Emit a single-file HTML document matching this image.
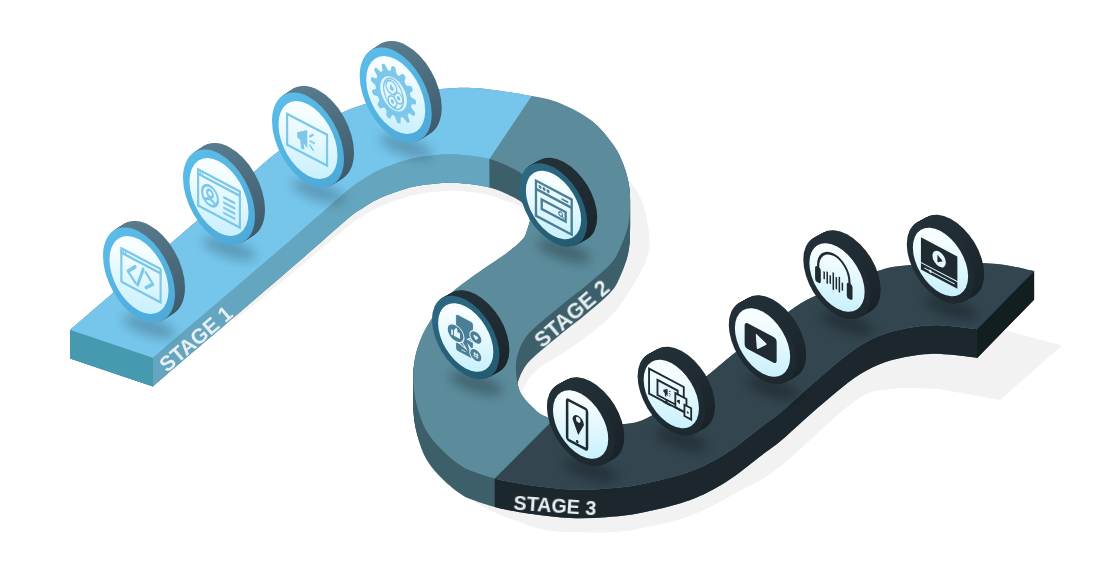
<!DOCTYPE html>
<html><head><meta charset="utf-8"><style>
html,body{margin:0;padding:0;background:#fff;width:1098px;height:565px;overflow:hidden}
svg{display:block}
text{font-family:"Liberation Sans",sans-serif;font-weight:bold}
</style></head><body>
<svg width="1098" height="565" viewBox="0 0 1098 565">
<defs>
<path id="road" d="M70.0 330.0 C73.3 327.1 73.2 327.2 90.0 312.8 C106.8 298.4 143.0 267.2 170.6 243.5 C198.2 219.8 237.7 185.7 255.6 170.4 C273.5 155.1 269.1 158.5 278.2 151.5 C287.3 144.5 299.2 135.0 310.0 128.5 C320.8 122.0 333.7 116.4 343.0 112.3 C352.3 108.2 356.4 106.8 365.9 103.8 C375.4 100.8 387.5 97.0 400.0 94.5 C412.5 92.0 427.8 90.0 441.0 89.0 C454.2 88.0 463.9 87.0 479.0 88.2 C494.1 89.4 518.1 93.5 531.6 96.0 C545.1 98.5 550.0 99.1 560.0 103.2 C570.0 107.3 583.0 113.9 591.8 120.8 C600.6 127.7 607.7 137.0 613.0 144.3 C618.3 151.6 620.8 157.7 623.5 164.5 C626.2 171.3 627.9 178.4 629.0 185.0 C630.1 191.6 630.2 197.2 630.0 204.0 C629.8 210.8 629.8 218.4 628.0 226.0 C626.2 233.6 622.5 243.1 619.5 249.5 C616.5 255.9 615.8 258.3 610.0 264.5 C604.2 270.7 591.7 280.9 585.0 286.5 C578.3 292.1 575.0 294.3 570.0 298.3 C565.0 302.3 560.0 306.5 555.0 310.6 C550.0 314.7 544.7 318.9 540.0 323.0 C535.3 327.1 530.4 331.2 527.0 335.5 C523.6 339.8 521.3 344.4 519.5 349.0 C517.7 353.6 516.5 358.5 516.0 363.0 C515.5 367.5 516.1 372.0 516.5 376.0 C516.9 380.0 517.6 383.8 518.5 387.0 C519.4 390.2 519.9 391.9 522.0 395.0 C524.1 398.1 526.9 401.8 531.0 405.4 C535.1 409.0 537.7 413.6 546.7 416.7 C555.7 419.8 572.8 422.7 585.0 424.0 C597.2 425.3 609.2 425.8 620.2 424.5 C631.2 423.2 637.0 423.8 651.0 416.0 C665.0 408.2 690.2 388.6 704.2 378.0 C718.2 367.4 721.5 363.4 735.3 352.6 C749.1 341.8 773.7 322.4 787.0 313.0 C800.3 303.6 800.4 302.9 815.0 296.0 C829.6 289.1 858.7 277.1 874.9 271.9 C891.1 266.7 892.9 266.4 912.0 265.0 C931.1 263.6 969.2 262.5 989.6 263.5 C1010.0 264.5 1026.8 269.8 1034.2 271.0 L977.2 329.4 C973.3 328.9 961.9 327.3 954.0 326.6 C946.1 325.9 938.2 325.1 930.0 325.4 C921.8 325.7 913.5 326.7 905.0 328.5 C896.5 330.3 887.5 332.5 879.0 336.0 C870.5 339.5 862.5 343.9 854.3 349.5 C846.1 355.1 837.9 362.4 829.6 369.3 C821.4 376.2 813.1 383.5 804.8 390.8 C796.5 398.1 787.5 406.8 780.0 413.0 C772.5 419.2 768.9 421.3 760.0 428.0 C751.1 434.7 738.4 445.7 726.7 453.0 C715.0 460.3 704.1 466.4 689.6 471.7 C675.1 476.9 653.9 481.7 640.0 484.5 C626.1 487.3 617.5 487.8 606.0 488.7 C594.5 489.6 582.6 490.1 570.8 489.6 C559.0 489.2 544.7 487.1 535.4 486.0 C526.1 484.9 521.8 484.1 515.0 482.8 C508.2 481.6 501.6 480.4 494.7 478.5 C487.8 476.6 479.1 473.7 473.6 471.7 C468.2 469.7 467.1 469.9 462.0 466.5 C456.9 463.1 448.9 456.9 443.0 451.0 C437.1 445.1 430.9 438.8 426.5 431.0 C422.1 423.2 418.7 412.5 416.5 404.0 C414.3 395.5 413.6 387.7 413.3 380.0 C413.1 372.3 413.6 365.3 415.0 358.0 C416.4 350.7 418.5 343.7 422.0 336.0 C425.5 328.3 431.4 318.9 436.0 312.0 C440.6 305.1 442.8 300.8 449.6 294.4 C456.4 288.0 467.2 280.5 476.7 273.6 C486.2 266.7 498.9 258.7 506.6 252.9 C514.3 247.1 519.3 242.8 522.7 239.0 C526.1 235.2 525.6 234.0 527.0 230.0 C528.4 226.0 530.3 220.3 531.0 215.0 C531.7 209.7 531.7 203.5 531.0 198.0 C530.3 192.5 528.8 186.2 527.0 182.0 C525.2 177.8 523.7 175.5 520.0 172.6 C516.3 169.7 510.1 167.1 505.0 164.8 C499.9 162.6 495.3 160.6 489.4 159.1 C483.5 157.6 476.5 156.4 469.6 155.6 C462.8 154.8 456.6 154.0 448.3 154.2 C440.0 154.4 428.1 155.7 420.0 157.0 C411.9 158.3 407.2 159.6 400.0 162.0 C392.8 164.4 382.9 168.2 376.7 171.2 C370.4 174.1 367.3 176.6 362.5 179.7 C357.7 182.8 358.4 181.3 348.0 190.0 C337.6 198.7 318.0 216.4 300.0 232.0 C282.0 247.6 260.0 266.4 240.0 283.5 C220.0 300.6 194.5 322.2 180.0 334.6 C165.5 347.0 157.5 354.1 153.0 358.0 Z"/>
<mask id="sm" maskUnits="userSpaceOnUse" x="0" y="0" width="1098" height="565"><g fill="#fff"><use href="#road" y="28.5"/><use href="#road" y="27.5"/><use href="#road" y="26.5"/><use href="#road" y="25.5"/><use href="#road" y="24.5"/><use href="#road" y="23.5"/><use href="#road" y="22.5"/><use href="#road" y="21.5"/><use href="#road" y="20.5"/><use href="#road" y="19.5"/><use href="#road" y="18.5"/><use href="#road" y="17.5"/><use href="#road" y="16.5"/><use href="#road" y="15.5"/><use href="#road" y="14.5"/><use href="#road" y="13.5"/><use href="#road" y="12.5"/><use href="#road" y="11.5"/><use href="#road" y="10.5"/><use href="#road" y="9.5"/><use href="#road" y="8.5"/><use href="#road" y="7.5"/><use href="#road" y="6.5"/><use href="#road" y="5.5"/><use href="#road" y="4.5"/><use href="#road" y="3.5"/><use href="#road" y="2.5"/><use href="#road" y="1.5"/><use href="#road" y="0.5"/></g></mask>
<clipPath id="c1"><polygon points="0,0 596,0 489.4,159.1 489.5,200 0,565"/></clipPath>
<clipPath id="c3"><polygon points="494.7,565 494.7,478.5 556,417 1098,0 1098,565"/></clipPath>
<linearGradient id="face" x1="-0.2" y1="-0.6" x2="0.4" y2="1" gradientUnits="userSpaceOnUse"><stop offset="0" stop-color="#f8feff"/><stop offset="1" stop-color="#c0eefd"/></linearGradient>
<linearGradient id="bk1" x1="0.1" y1="0" x2="0.9" y2="1"><stop offset="0" stop-color="#5d8193"/><stop offset="1" stop-color="#3a5767"/></linearGradient>
<linearGradient id="bk2" x1="0.1" y1="0" x2="0.9" y2="1"><stop offset="0" stop-color="#24333b"/><stop offset="1" stop-color="#19242a"/></linearGradient>
<linearGradient id="bk3" x1="0.1" y1="0" x2="0.9" y2="1"><stop offset="0" stop-color="#25323a"/><stop offset="1" stop-color="#172025"/></linearGradient>
<linearGradient id="rm1" x1="0" y1="0" x2="1" y2="1"><stop offset="0" stop-color="#5ec0ec"/><stop offset="1" stop-color="#4aa6d6"/></linearGradient>
<linearGradient id="rm2" x1="0" y1="0" x2="1" y2="1"><stop offset="0" stop-color="#2d6b86"/><stop offset="1" stop-color="#22586e"/></linearGradient>
<linearGradient id="rm3" x1="0" y1="0" x2="1" y2="1"><stop offset="0" stop-color="#24313a"/><stop offset="1" stop-color="#1c272d"/></linearGradient>
<filter id="nf" x="0" y="0" width="1098" height="565" filterUnits="userSpaceOnUse"><feOffset dx="0" dy="0"/></filter>
<filter id="blur6" x="-50%" y="-50%" width="200%" height="200%"><feGaussianBlur stdDeviation="6"/></filter>
<filter id="blur5" x="-50%" y="-50%" width="200%" height="200%"><feGaussianBlur stdDeviation="5"/></filter>
</defs>
<g fill="#f2f2f2"><path d="M232.0 318.0 C233.6 317.4 229.9 323.2 241.5 314.4 C253.1 305.6 283.5 280.2 301.5 265.3 C319.5 250.4 339.1 233.5 349.5 225.2 C359.9 216.9 359.2 218.4 364.0 215.5 C368.8 212.6 371.9 210.4 378.2 207.6 C384.4 204.7 394.3 200.8 401.5 198.5 C408.7 196.2 413.4 194.8 421.5 193.5 C429.6 192.2 441.5 190.9 449.8 190.7 C458.1 190.5 464.2 191.3 471.1 192.1 C478.0 192.9 485.0 194.1 490.9 195.6 C496.8 197.1 500.0 198.9 506.5 201.3 C513.0 203.7 526.1 208.6 530.0 210.0 L520.0 160.0 L400.0 150.0 L230.0 300.0 Z"/><path d="M622.0 170.0 C625.1 174.8 636.2 188.1 640.7 198.5 C645.2 208.9 648.0 222.6 649.0 232.5 C650.0 242.4 650.2 248.4 647.0 258.0 C643.8 267.6 636.2 280.2 630.0 290.0 C623.8 299.8 619.2 307.8 610.0 317.0 C600.8 326.2 584.2 338.2 575.0 345.0 C565.8 351.8 560.8 354.3 555.0 358.0 C549.2 361.7 544.5 363.3 540.0 367.0 C535.5 370.7 531.0 375.8 528.0 380.0 C525.0 384.2 523.5 389.0 522.0 392.0 C520.5 395.0 519.5 397.0 519.0 398.0 L512.0 370.0 L560.0 300.0 L615.0 230.0 Z"/><path d="M468.0 497.0 C470.3 498.5 477.5 503.4 482.0 506.0 C486.5 508.6 487.8 509.5 495.0 512.5 C502.2 515.5 515.3 520.9 525.0 524.0 C534.7 527.1 539.5 529.6 553.0 531.0 C566.5 532.4 591.5 532.9 606.0 532.5 C620.5 532.1 626.1 531.2 640.0 528.5 C653.9 525.8 673.1 522.2 689.6 516.0 C706.1 509.8 723.9 499.7 739.0 491.5 C754.1 483.3 760.8 481.7 780.0 466.7 C799.2 451.7 835.7 414.4 854.3 401.5 C872.9 388.6 877.2 391.1 891.5 389.0 C905.8 386.9 931.9 389.2 940.0 389.2 L1000.2 400.0 L1062.0 345.5 L1007.5 331.0 L977.0 340.0 L900.0 340.0 L700.0 460.0 L500.0 480.0 Z"/></g>
<g><rect width="1098" height="565" fill="#3c5f69" mask="url(#sm)"/></g>
<g clip-path="url(#c1)"><rect width="1098" height="565" fill="#64a6bf" mask="url(#sm)"/></g>
<g clip-path="url(#c3)"><rect width="1098" height="565" fill="#1b262d" mask="url(#sm)"/></g>
<use href="#road" fill="#5c8c9c"/>
<use href="#road" fill="#76c6ec" clip-path="url(#c1)"/>
<use href="#road" fill="#334650" clip-path="url(#c3)"/>
<polygon points="70,330 153,358 153,386.5 70,358.5" fill="#459aaf"/>
<polygon points="977.2,329.2 1034.2,271 1034.2,299.5 977.2,357.7" fill="#131e21"/>
<g filter="url(#nf)"><text x="0" y="0" font-size="21" fill="#e8eff2" text-anchor="middle" dominant-baseline="central" transform="translate(195.8,338.6) rotate(-40.5)">STAGE 1</text>
<text x="0" y="0" font-size="21.5" fill="#e8eff2" text-anchor="middle" dominant-baseline="central" transform="translate(572,314) rotate(-40.5)">STAGE 2</text>
<text x="0" y="0" font-size="19.7" fill="#e8eff2" text-anchor="middle" dominant-baseline="central" transform="translate(555,505.5) rotate(4)">STAGE 3</text></g>
<ellipse cx="149.4" cy="326.5" rx="28" ry="9" fill="#000" opacity="0.22" filter="url(#blur6)" transform="rotate(18 149.4 326.5)"/><circle r="1" fill="url(#bk1)" transform="matrix(36 19 0 43.5 149.00 268.50)"/><circle r="1" fill="url(#bk1)" transform="matrix(36 19 0 43.5 148.17 269.04)"/><circle r="1" fill="url(#bk1)" transform="matrix(36 19 0 43.5 147.33 269.58)"/><circle r="1" fill="url(#bk1)" transform="matrix(36 19 0 43.5 146.50 270.12)"/><circle r="1" fill="url(#bk1)" transform="matrix(36 19 0 43.5 145.67 270.67)"/><circle r="1" fill="url(#bk1)" transform="matrix(36 19 0 43.5 144.83 271.21)"/><circle r="1" fill="url(#bk1)" transform="matrix(36 19 0 43.5 144.00 271.75)"/><circle r="1" fill="url(#bk1)" transform="matrix(36 19 0 43.5 143.17 272.29)"/><circle r="1" fill="url(#bk1)" transform="matrix(36 19 0 43.5 142.33 272.83)"/><circle r="1" fill="url(#bk1)" transform="matrix(36 19 0 43.5 141.50 273.38)"/><circle r="1" fill="url(#bk1)" transform="matrix(36 19 0 43.5 140.67 273.92)"/><circle r="1" fill="url(#bk1)" transform="matrix(36 19 0 43.5 139.83 274.46)"/><g transform="matrix(36 19 0 43.5 139.00 275.00)"><circle r="1" fill="url(#rm1)"/><circle r="0.82" fill="url(#face)"/><g fill="none" stroke="#7cc7ea" stroke-width="0.06" stroke-linejoin="round" stroke-linecap="round"><path d="M-0.49 -0.4 H0.6 V0.37 H-0.49 Z"/><path d="M-0.49 -0.3 H0.6"/><path d="M-0.1 -0.15 L-0.31 0.05 L-0.1 0.22 M0.19 -0.14 L0.39 0.04 L0.19 0.21 M0.12 -0.19 L-0.04 0.25" stroke-width="0.07"/></g><g fill="#7cc7ea"><circle cx="-0.43" cy="-0.35" r="0.025"/><circle cx="-0.37" cy="-0.35" r="0.025"/></g></g><ellipse cx="229.4" cy="248.5" rx="28" ry="9" fill="#000" opacity="0.22" filter="url(#blur6)" transform="rotate(18 229.4 248.5)"/><circle r="1" fill="url(#bk1)" transform="matrix(36 19 0 43.5 229.00 190.50)"/><circle r="1" fill="url(#bk1)" transform="matrix(36 19 0 43.5 228.17 191.04)"/><circle r="1" fill="url(#bk1)" transform="matrix(36 19 0 43.5 227.33 191.58)"/><circle r="1" fill="url(#bk1)" transform="matrix(36 19 0 43.5 226.50 192.12)"/><circle r="1" fill="url(#bk1)" transform="matrix(36 19 0 43.5 225.67 192.67)"/><circle r="1" fill="url(#bk1)" transform="matrix(36 19 0 43.5 224.83 193.21)"/><circle r="1" fill="url(#bk1)" transform="matrix(36 19 0 43.5 224.00 193.75)"/><circle r="1" fill="url(#bk1)" transform="matrix(36 19 0 43.5 223.17 194.29)"/><circle r="1" fill="url(#bk1)" transform="matrix(36 19 0 43.5 222.33 194.83)"/><circle r="1" fill="url(#bk1)" transform="matrix(36 19 0 43.5 221.50 195.38)"/><circle r="1" fill="url(#bk1)" transform="matrix(36 19 0 43.5 220.67 195.92)"/><circle r="1" fill="url(#bk1)" transform="matrix(36 19 0 43.5 219.83 196.46)"/><g transform="matrix(36 19 0 43.5 219.00 197.00)"><circle r="1" fill="url(#rm1)"/><circle r="0.82" fill="url(#face)"/><g fill="none" stroke="#7cc7ea" stroke-width="0.06" stroke-linecap="round"><path d="M-0.58 -0.38 H0.58 V0.45 H-0.58 Z"/><path d="M-0.58 -0.28 H0.58"/><circle cx="-0.25" cy="0.08" r="0.22"/><circle cx="-0.25" cy="0.03" r="0.08"/><path d="M-0.39 0.22 Q-0.25 0.1 -0.11 0.22"/><path d="M0.14 -0.05 H0.43 M0.14 0.07 H0.43 M0.14 0.19 H0.43 M0.14 0.31 H0.43" stroke-width="0.055"/></g><g fill="#7cc7ea"><circle cx="-0.52" cy="-0.33" r="0.022"/><circle cx="-0.46" cy="-0.33" r="0.022"/></g></g><ellipse cx="318.4" cy="191.5" rx="28" ry="9" fill="#000" opacity="0.22" filter="url(#blur6)" transform="rotate(18 318.4 191.5)"/><circle r="1" fill="url(#bk1)" transform="matrix(36 19 0 43.5 318.00 133.50)"/><circle r="1" fill="url(#bk1)" transform="matrix(36 19 0 43.5 317.17 134.04)"/><circle r="1" fill="url(#bk1)" transform="matrix(36 19 0 43.5 316.33 134.58)"/><circle r="1" fill="url(#bk1)" transform="matrix(36 19 0 43.5 315.50 135.12)"/><circle r="1" fill="url(#bk1)" transform="matrix(36 19 0 43.5 314.67 135.67)"/><circle r="1" fill="url(#bk1)" transform="matrix(36 19 0 43.5 313.83 136.21)"/><circle r="1" fill="url(#bk1)" transform="matrix(36 19 0 43.5 313.00 136.75)"/><circle r="1" fill="url(#bk1)" transform="matrix(36 19 0 43.5 312.17 137.29)"/><circle r="1" fill="url(#bk1)" transform="matrix(36 19 0 43.5 311.33 137.83)"/><circle r="1" fill="url(#bk1)" transform="matrix(36 19 0 43.5 310.50 138.38)"/><circle r="1" fill="url(#bk1)" transform="matrix(36 19 0 43.5 309.67 138.92)"/><circle r="1" fill="url(#bk1)" transform="matrix(36 19 0 43.5 308.83 139.46)"/><g transform="matrix(36 19 0 43.5 308.00 140.00)"><circle r="1" fill="url(#rm1)"/><circle r="0.82" fill="url(#face)"/><g fill="none" stroke="#7cc7ea" stroke-width="0.06"><path d="M-0.58 -0.35 H0.53 V0.36 H-0.58 Z"/></g><path fill="#7cc7ea" d="M-0.3 -0.05 L-0.02 -0.22 L-0.02 0.2 L-0.12 0.13 L-0.1 0.27 L-0.19 0.28 L-0.22 0.09 L-0.3 0.07 Z"/><path fill="none" stroke="#7cc7ea" stroke-width="0.045" stroke-linecap="round" d="M0.05 -0.1 L0.14 -0.18 M0.06 0 H0.17 M0.05 0.1 L0.14 0.17"/></g><ellipse cx="406.1" cy="146.5" rx="28" ry="9" fill="#000" opacity="0.22" filter="url(#blur6)" transform="rotate(18 406.1 146.5)"/><circle r="1" fill="url(#bk1)" transform="matrix(36 19 0 43.5 405.70 88.50)"/><circle r="1" fill="url(#bk1)" transform="matrix(36 19 0 43.5 404.87 89.04)"/><circle r="1" fill="url(#bk1)" transform="matrix(36 19 0 43.5 404.03 89.58)"/><circle r="1" fill="url(#bk1)" transform="matrix(36 19 0 43.5 403.20 90.12)"/><circle r="1" fill="url(#bk1)" transform="matrix(36 19 0 43.5 402.37 90.67)"/><circle r="1" fill="url(#bk1)" transform="matrix(36 19 0 43.5 401.53 91.21)"/><circle r="1" fill="url(#bk1)" transform="matrix(36 19 0 43.5 400.70 91.75)"/><circle r="1" fill="url(#bk1)" transform="matrix(36 19 0 43.5 399.87 92.29)"/><circle r="1" fill="url(#bk1)" transform="matrix(36 19 0 43.5 399.03 92.83)"/><circle r="1" fill="url(#bk1)" transform="matrix(36 19 0 43.5 398.20 93.38)"/><circle r="1" fill="url(#bk1)" transform="matrix(36 19 0 43.5 397.37 93.92)"/><circle r="1" fill="url(#bk1)" transform="matrix(36 19 0 43.5 396.53 94.46)"/><g transform="matrix(36 19 0 43.5 395.70 95.00)"><circle r="1" fill="url(#rm1)"/><circle r="0.82" fill="url(#face)"/><g transform="translate(-0.06 0)"><g fill="#7cc7ea"><circle r="0.5"/><path d="M-0.09 -0.46 L-0.05 -0.62 Q0 -0.65 0.05 -0.62 L0.09 -0.46 Z" transform="rotate(0.0)"/><path d="M-0.09 -0.46 L-0.05 -0.62 Q0 -0.65 0.05 -0.62 L0.09 -0.46 Z" transform="rotate(27.7)"/><path d="M-0.09 -0.46 L-0.05 -0.62 Q0 -0.65 0.05 -0.62 L0.09 -0.46 Z" transform="rotate(55.4)"/><path d="M-0.09 -0.46 L-0.05 -0.62 Q0 -0.65 0.05 -0.62 L0.09 -0.46 Z" transform="rotate(83.1)"/><path d="M-0.09 -0.46 L-0.05 -0.62 Q0 -0.65 0.05 -0.62 L0.09 -0.46 Z" transform="rotate(110.8)"/><path d="M-0.09 -0.46 L-0.05 -0.62 Q0 -0.65 0.05 -0.62 L0.09 -0.46 Z" transform="rotate(138.5)"/><path d="M-0.09 -0.46 L-0.05 -0.62 Q0 -0.65 0.05 -0.62 L0.09 -0.46 Z" transform="rotate(166.2)"/><path d="M-0.09 -0.46 L-0.05 -0.62 Q0 -0.65 0.05 -0.62 L0.09 -0.46 Z" transform="rotate(193.8)"/><path d="M-0.09 -0.46 L-0.05 -0.62 Q0 -0.65 0.05 -0.62 L0.09 -0.46 Z" transform="rotate(221.5)"/><path d="M-0.09 -0.46 L-0.05 -0.62 Q0 -0.65 0.05 -0.62 L0.09 -0.46 Z" transform="rotate(249.2)"/><path d="M-0.09 -0.46 L-0.05 -0.62 Q0 -0.65 0.05 -0.62 L0.09 -0.46 Z" transform="rotate(276.9)"/><path d="M-0.09 -0.46 L-0.05 -0.62 Q0 -0.65 0.05 -0.62 L0.09 -0.46 Z" transform="rotate(304.6)"/><path d="M-0.09 -0.46 L-0.05 -0.62 Q0 -0.65 0.05 -0.62 L0.09 -0.46 Z" transform="rotate(332.3)"/></g><circle r="0.37" fill="#e2f5fc"/><g fill="none" stroke="#7cc7ea" stroke-width="0.035"><ellipse rx="0.27" ry="0.33" transform="rotate(-15)"/><circle cx="-0.06" cy="-0.12" r="0.15"/><circle cx="0.14" cy="0.04" r="0.12"/><circle cx="-0.03" cy="0.19" r="0.12"/></g><g fill="#7cc7ea"><path d="M-0.1 -0.06 V-0.14 L-0.05 -0.2 V-0.14 H0.0 V-0.06 Z"/><circle cx="0.14" cy="0.04" r="0.045"/><circle cx="-0.03" cy="0.19" r="0.045"/></g></g></g><ellipse cx="563.9" cy="250.8" rx="28" ry="9" fill="#000" opacity="0.28" filter="url(#blur6)" transform="rotate(18 563.9 250.8)"/><circle r="1" fill="url(#bk2)" transform="matrix(33.7 17.8 0 37.8 563.50 199.50)"/><circle r="1" fill="url(#bk2)" transform="matrix(33.7 17.8 0 37.8 562.67 199.96)"/><circle r="1" fill="url(#bk2)" transform="matrix(33.7 17.8 0 37.8 561.83 200.42)"/><circle r="1" fill="url(#bk2)" transform="matrix(33.7 17.8 0 37.8 561.00 200.88)"/><circle r="1" fill="url(#bk2)" transform="matrix(33.7 17.8 0 37.8 560.17 201.33)"/><circle r="1" fill="url(#bk2)" transform="matrix(33.7 17.8 0 37.8 559.33 201.79)"/><circle r="1" fill="url(#bk2)" transform="matrix(33.7 17.8 0 37.8 558.50 202.25)"/><circle r="1" fill="url(#bk2)" transform="matrix(33.7 17.8 0 37.8 557.67 202.71)"/><circle r="1" fill="url(#bk2)" transform="matrix(33.7 17.8 0 37.8 556.83 203.17)"/><circle r="1" fill="url(#bk2)" transform="matrix(33.7 17.8 0 37.8 556.00 203.62)"/><circle r="1" fill="url(#bk2)" transform="matrix(33.7 17.8 0 37.8 555.17 204.08)"/><circle r="1" fill="url(#bk2)" transform="matrix(33.7 17.8 0 37.8 554.33 204.54)"/><g transform="matrix(33.7 17.8 0 37.8 553.50 205.00)"><circle r="1" fill="url(#rm2)"/><circle r="0.82" fill="url(#face)"/><g fill="none" stroke="#4a7f95" stroke-width="0.07"><path d="M-0.52 -0.4 H0.54 V0.53 H-0.52 Z"/><path d="M-0.52 -0.18 H0.54"/><path d="M-0.35 0.02 H0.36 V0.27 H-0.35 Z"/></g><g fill="#4a7f95"><circle cx="-0.4" cy="-0.29" r="0.045"/><circle cx="-0.28" cy="-0.29" r="0.045"/><circle cx="-0.16" cy="-0.29" r="0.045"/><rect x="0.24" y="-0.3" width="0.2" height="0.05"/></g><circle cx="0.21" cy="0.14" r="0.055" fill="none" stroke="#4a7f95" stroke-width="0.035"/><path d="M0.25 0.18 L0.3 0.22" stroke="#4a7f95" stroke-width="0.035"/></g><ellipse cx="476.1" cy="383.3" rx="28" ry="9" fill="#000" opacity="0.28" filter="url(#blur6)" transform="rotate(18 476.1 383.3)"/><circle r="1" fill="url(#bk2)" transform="matrix(33.7 17.8 0 37.8 475.70 332.00)"/><circle r="1" fill="url(#bk2)" transform="matrix(33.7 17.8 0 37.8 474.87 332.46)"/><circle r="1" fill="url(#bk2)" transform="matrix(33.7 17.8 0 37.8 474.03 332.92)"/><circle r="1" fill="url(#bk2)" transform="matrix(33.7 17.8 0 37.8 473.20 333.38)"/><circle r="1" fill="url(#bk2)" transform="matrix(33.7 17.8 0 37.8 472.37 333.83)"/><circle r="1" fill="url(#bk2)" transform="matrix(33.7 17.8 0 37.8 471.53 334.29)"/><circle r="1" fill="url(#bk2)" transform="matrix(33.7 17.8 0 37.8 470.70 334.75)"/><circle r="1" fill="url(#bk2)" transform="matrix(33.7 17.8 0 37.8 469.87 335.21)"/><circle r="1" fill="url(#bk2)" transform="matrix(33.7 17.8 0 37.8 469.03 335.67)"/><circle r="1" fill="url(#bk2)" transform="matrix(33.7 17.8 0 37.8 468.20 336.12)"/><circle r="1" fill="url(#bk2)" transform="matrix(33.7 17.8 0 37.8 467.37 336.58)"/><circle r="1" fill="url(#bk2)" transform="matrix(33.7 17.8 0 37.8 466.53 337.04)"/><g transform="matrix(33.7 17.8 0 37.8 465.70 337.50)"><circle r="1" fill="url(#rm2)"/><circle r="0.82" fill="url(#face)"/><g fill="#4a7f95" stroke="#e4f6fd" stroke-width="0.03"><rect x="-0.3" y="-0.5" width="0.53" height="0.98" rx="0.07"/><path d="M-0.12 0.15 L0.02 0.3 L-0.22 0.23 Z"/><ellipse cx="-0.3" cy="0.03" rx="0.25" ry="0.22"/><path d="M0.16 -0.05 L0.06 0.02 L0.2 0.03 Z"/><ellipse cx="0.3" cy="-0.14" rx="0.18" ry="0.16"/><path d="M0.16 0.22 L0.08 0.16 L0.14 0.3 Z"/><ellipse cx="0.3" cy="0.33" rx="0.18" ry="0.16"/></g><g fill="#e4f6fd"><rect x="-0.43" y="-0.02" width="0.05" height="0.14"/><path d="M-0.35 0.12 V-0.03 L-0.28 -0.13 Q-0.23 -0.11 -0.25 -0.03 H-0.17 V0.12 Z"/><path d="M0.3 -0.07 L0.23 -0.15 Q0.23 -0.21 0.3 -0.18 Q0.37 -0.21 0.37 -0.15 Z"/></g><path d="M0.27 0.26 V0.4 M0.34 0.26 V0.4 M0.23 0.3 H0.38 M0.23 0.36 H0.38" stroke="#e4f6fd" stroke-width="0.025"/><path d="M-0.12 0.38 H0.0" stroke="#e4f6fd" stroke-width="0.025"/></g><ellipse cx="591.0" cy="470.3" rx="28" ry="9" fill="#000" opacity="0.28" filter="url(#blur6)" transform="rotate(18 591.0 470.3)"/><circle r="1" fill="url(#bk3)" transform="matrix(33.7 17.8 0 37.8 590.60 419.00)"/><circle r="1" fill="url(#bk3)" transform="matrix(33.7 17.8 0 37.8 589.77 419.46)"/><circle r="1" fill="url(#bk3)" transform="matrix(33.7 17.8 0 37.8 588.93 419.92)"/><circle r="1" fill="url(#bk3)" transform="matrix(33.7 17.8 0 37.8 588.10 420.38)"/><circle r="1" fill="url(#bk3)" transform="matrix(33.7 17.8 0 37.8 587.27 420.83)"/><circle r="1" fill="url(#bk3)" transform="matrix(33.7 17.8 0 37.8 586.43 421.29)"/><circle r="1" fill="url(#bk3)" transform="matrix(33.7 17.8 0 37.8 585.60 421.75)"/><circle r="1" fill="url(#bk3)" transform="matrix(33.7 17.8 0 37.8 584.77 422.21)"/><circle r="1" fill="url(#bk3)" transform="matrix(33.7 17.8 0 37.8 583.93 422.67)"/><circle r="1" fill="url(#bk3)" transform="matrix(33.7 17.8 0 37.8 583.10 423.12)"/><circle r="1" fill="url(#bk3)" transform="matrix(33.7 17.8 0 37.8 582.27 423.58)"/><circle r="1" fill="url(#bk3)" transform="matrix(33.7 17.8 0 37.8 581.43 424.04)"/><g transform="matrix(33.7 17.8 0 37.8 580.60 424.50)"><circle r="1" fill="url(#rm3)"/><circle r="0.82" fill="url(#face)"/><g fill="none" stroke="#1f2b31" stroke-width="0.075"><rect x="-0.4" y="-0.48" width="0.59" height="1.06" rx="0.06"/></g><path fill="#1f2b31" d="M-0.07 0.31 L-0.24 -0.03 A0.17 0.17 0 1 1 0.1 -0.03 Z"/><circle cx="-0.07" cy="-0.09" r="0.07" fill="#e4f6fd"/><circle cx="-0.1" cy="0.5" r="0.04" fill="#1f2b31"/></g><ellipse cx="681.7" cy="439.8" rx="28" ry="9" fill="#000" opacity="0.28" filter="url(#blur6)" transform="rotate(18 681.7 439.8)"/><circle r="1" fill="url(#bk3)" transform="matrix(33.7 17.8 0 37.8 681.30 388.50)"/><circle r="1" fill="url(#bk3)" transform="matrix(33.7 17.8 0 37.8 680.47 388.96)"/><circle r="1" fill="url(#bk3)" transform="matrix(33.7 17.8 0 37.8 679.63 389.42)"/><circle r="1" fill="url(#bk3)" transform="matrix(33.7 17.8 0 37.8 678.80 389.88)"/><circle r="1" fill="url(#bk3)" transform="matrix(33.7 17.8 0 37.8 677.97 390.33)"/><circle r="1" fill="url(#bk3)" transform="matrix(33.7 17.8 0 37.8 677.13 390.79)"/><circle r="1" fill="url(#bk3)" transform="matrix(33.7 17.8 0 37.8 676.30 391.25)"/><circle r="1" fill="url(#bk3)" transform="matrix(33.7 17.8 0 37.8 675.47 391.71)"/><circle r="1" fill="url(#bk3)" transform="matrix(33.7 17.8 0 37.8 674.63 392.17)"/><circle r="1" fill="url(#bk3)" transform="matrix(33.7 17.8 0 37.8 673.80 392.62)"/><circle r="1" fill="url(#bk3)" transform="matrix(33.7 17.8 0 37.8 672.97 393.08)"/><circle r="1" fill="url(#bk3)" transform="matrix(33.7 17.8 0 37.8 672.13 393.54)"/><g transform="matrix(33.7 17.8 0 37.8 671.30 394.00)"><circle r="1" fill="url(#rm3)"/><circle r="0.82" fill="url(#face)"/><g stroke="#1f2b31" stroke-width="0.055" fill="#e4f6fd"><path d="M-0.66 -0.36 H0.37 V0.3 H-0.66 Z" fill="none"/><path d="M-0.41 -0.18 H0.19 V0.22 H-0.41 Z"/><path d="M-0.14 0.22 V0.3 M-0.24 0.31 H-0.02"/><path d="M0.12 -0.08 H0.45 V0.29 H0.12 Z"/><path d="M0.39 0.1 H0.59 V0.4 H0.39 Z"/></g><g fill="#1f2b31"><path transform="translate(-0.1 0.02) scale(0.45)" d="M-0.3 -0.05 L-0.02 -0.22 L-0.02 0.2 L-0.12 0.13 L-0.1 0.27 L-0.19 0.28 L-0.22 0.09 L-0.3 0.07 Z M0.05 -0.12 L0.16 -0.2 L0.18 -0.17 L0.07 -0.09 Z M0.06 -0.02 H0.19 V0.02 H0.06 Z M0.05 0.1 L0.16 0.18 L0.18 0.15 L0.07 0.07 Z"/><path transform="translate(0.26 0.1) scale(0.3)" d="M-0.3 -0.05 L-0.02 -0.22 L-0.02 0.2 L-0.3 0.07 Z"/><circle cx="0.49" cy="0.26" r="0.03"/></g></g><ellipse cx="772.9" cy="388.3" rx="28" ry="9" fill="#000" opacity="0.28" filter="url(#blur6)" transform="rotate(18 772.9 388.3)"/><circle r="1" fill="url(#bk3)" transform="matrix(33.7 17.8 0 37.8 772.50 337.00)"/><circle r="1" fill="url(#bk3)" transform="matrix(33.7 17.8 0 37.8 771.67 337.46)"/><circle r="1" fill="url(#bk3)" transform="matrix(33.7 17.8 0 37.8 770.83 337.92)"/><circle r="1" fill="url(#bk3)" transform="matrix(33.7 17.8 0 37.8 770.00 338.38)"/><circle r="1" fill="url(#bk3)" transform="matrix(33.7 17.8 0 37.8 769.17 338.83)"/><circle r="1" fill="url(#bk3)" transform="matrix(33.7 17.8 0 37.8 768.33 339.29)"/><circle r="1" fill="url(#bk3)" transform="matrix(33.7 17.8 0 37.8 767.50 339.75)"/><circle r="1" fill="url(#bk3)" transform="matrix(33.7 17.8 0 37.8 766.67 340.21)"/><circle r="1" fill="url(#bk3)" transform="matrix(33.7 17.8 0 37.8 765.83 340.67)"/><circle r="1" fill="url(#bk3)" transform="matrix(33.7 17.8 0 37.8 765.00 341.12)"/><circle r="1" fill="url(#bk3)" transform="matrix(33.7 17.8 0 37.8 764.17 341.58)"/><circle r="1" fill="url(#bk3)" transform="matrix(33.7 17.8 0 37.8 763.33 342.04)"/><g transform="matrix(33.7 17.8 0 37.8 762.50 342.50)"><circle r="1" fill="url(#rm3)"/><circle r="0.82" fill="url(#face)"/><rect x="-0.53" y="-0.3" width="0.95" height="0.68" rx="0.09" fill="#1f2b31"/><path fill="#e4f6fd" d="M-0.18 -0.12 L0.1 -0.01 L-0.15 0.22 Z" stroke="#e4f6fd" stroke-width="0.04" stroke-linejoin="round"/></g><ellipse cx="847.4" cy="323.3" rx="28" ry="9" fill="#000" opacity="0.28" filter="url(#blur6)" transform="rotate(18 847.4 323.3)"/><circle r="1" fill="url(#bk3)" transform="matrix(33.7 17.8 0 37.8 847.00 272.00)"/><circle r="1" fill="url(#bk3)" transform="matrix(33.7 17.8 0 37.8 846.17 272.46)"/><circle r="1" fill="url(#bk3)" transform="matrix(33.7 17.8 0 37.8 845.33 272.92)"/><circle r="1" fill="url(#bk3)" transform="matrix(33.7 17.8 0 37.8 844.50 273.38)"/><circle r="1" fill="url(#bk3)" transform="matrix(33.7 17.8 0 37.8 843.67 273.83)"/><circle r="1" fill="url(#bk3)" transform="matrix(33.7 17.8 0 37.8 842.83 274.29)"/><circle r="1" fill="url(#bk3)" transform="matrix(33.7 17.8 0 37.8 842.00 274.75)"/><circle r="1" fill="url(#bk3)" transform="matrix(33.7 17.8 0 37.8 841.17 275.21)"/><circle r="1" fill="url(#bk3)" transform="matrix(33.7 17.8 0 37.8 840.33 275.67)"/><circle r="1" fill="url(#bk3)" transform="matrix(33.7 17.8 0 37.8 839.50 276.12)"/><circle r="1" fill="url(#bk3)" transform="matrix(33.7 17.8 0 37.8 838.67 276.58)"/><circle r="1" fill="url(#bk3)" transform="matrix(33.7 17.8 0 37.8 837.83 277.04)"/><g transform="matrix(33.7 17.8 0 37.8 837.00 277.50)"><circle r="1" fill="url(#rm3)"/><circle r="0.82" fill="url(#face)"/><path fill="none" stroke="#1f2b31" stroke-width="0.065" d="M-0.56 0.05 V-0.05 A0.46 0.5 0 0 1 0.37 -0.05 V0.05"/><g fill="#1f2b31"><rect x="-0.65" y="-0.02" width="0.17" height="0.42" rx="0.07"/><rect x="0.29" y="-0.02" width="0.17" height="0.42" rx="0.07"/></g><path fill="none" stroke="#1f2b31" stroke-width="0.045" d="M-0.38 0.02 V0.22 M-0.29 -0.02 V0.3 M-0.2 0.04 V0.26 M-0.11 -0.08 V0.38 M-0.02 0.0 V0.32 M0.07 -0.05 V0.36 M0.16 0.06 V0.27"/></g><ellipse cx="950.9" cy="307.8" rx="28" ry="9" fill="#000" opacity="0.28" filter="url(#blur6)" transform="rotate(18 950.9 307.8)"/><circle r="1" fill="url(#bk3)" transform="matrix(33.7 17.8 0 37.8 950.50 256.50)"/><circle r="1" fill="url(#bk3)" transform="matrix(33.7 17.8 0 37.8 949.67 256.96)"/><circle r="1" fill="url(#bk3)" transform="matrix(33.7 17.8 0 37.8 948.83 257.42)"/><circle r="1" fill="url(#bk3)" transform="matrix(33.7 17.8 0 37.8 948.00 257.88)"/><circle r="1" fill="url(#bk3)" transform="matrix(33.7 17.8 0 37.8 947.17 258.33)"/><circle r="1" fill="url(#bk3)" transform="matrix(33.7 17.8 0 37.8 946.33 258.79)"/><circle r="1" fill="url(#bk3)" transform="matrix(33.7 17.8 0 37.8 945.50 259.25)"/><circle r="1" fill="url(#bk3)" transform="matrix(33.7 17.8 0 37.8 944.67 259.71)"/><circle r="1" fill="url(#bk3)" transform="matrix(33.7 17.8 0 37.8 943.83 260.17)"/><circle r="1" fill="url(#bk3)" transform="matrix(33.7 17.8 0 37.8 943.00 260.62)"/><circle r="1" fill="url(#bk3)" transform="matrix(33.7 17.8 0 37.8 942.17 261.08)"/><circle r="1" fill="url(#bk3)" transform="matrix(33.7 17.8 0 37.8 941.33 261.54)"/><g transform="matrix(33.7 17.8 0 37.8 940.50 262.00)"><circle r="1" fill="url(#rm3)"/><circle r="0.82" fill="url(#face)"/><path d="M-0.58 -0.38 H0.5 V0.27 H-0.58 Z" fill="#1f2b31"/><circle cx="-0.04" cy="-0.06" r="0.2" fill="#e4f6fd"/><path fill="#1f2b31" d="M-0.09 -0.15 L0.07 -0.05 L-0.09 0.05 Z"/><path d="M-0.58 0.3 H0.5 V0.47 H-0.58 Z" fill="#1f2b31"/><path stroke="#e4f6fd" stroke-width="0.03" d="M-0.48 0.385 H0.42"/><circle cx="-0.3" cy="0.385" r="0.04" fill="#e4f6fd"/></g>
</svg></body></html>
